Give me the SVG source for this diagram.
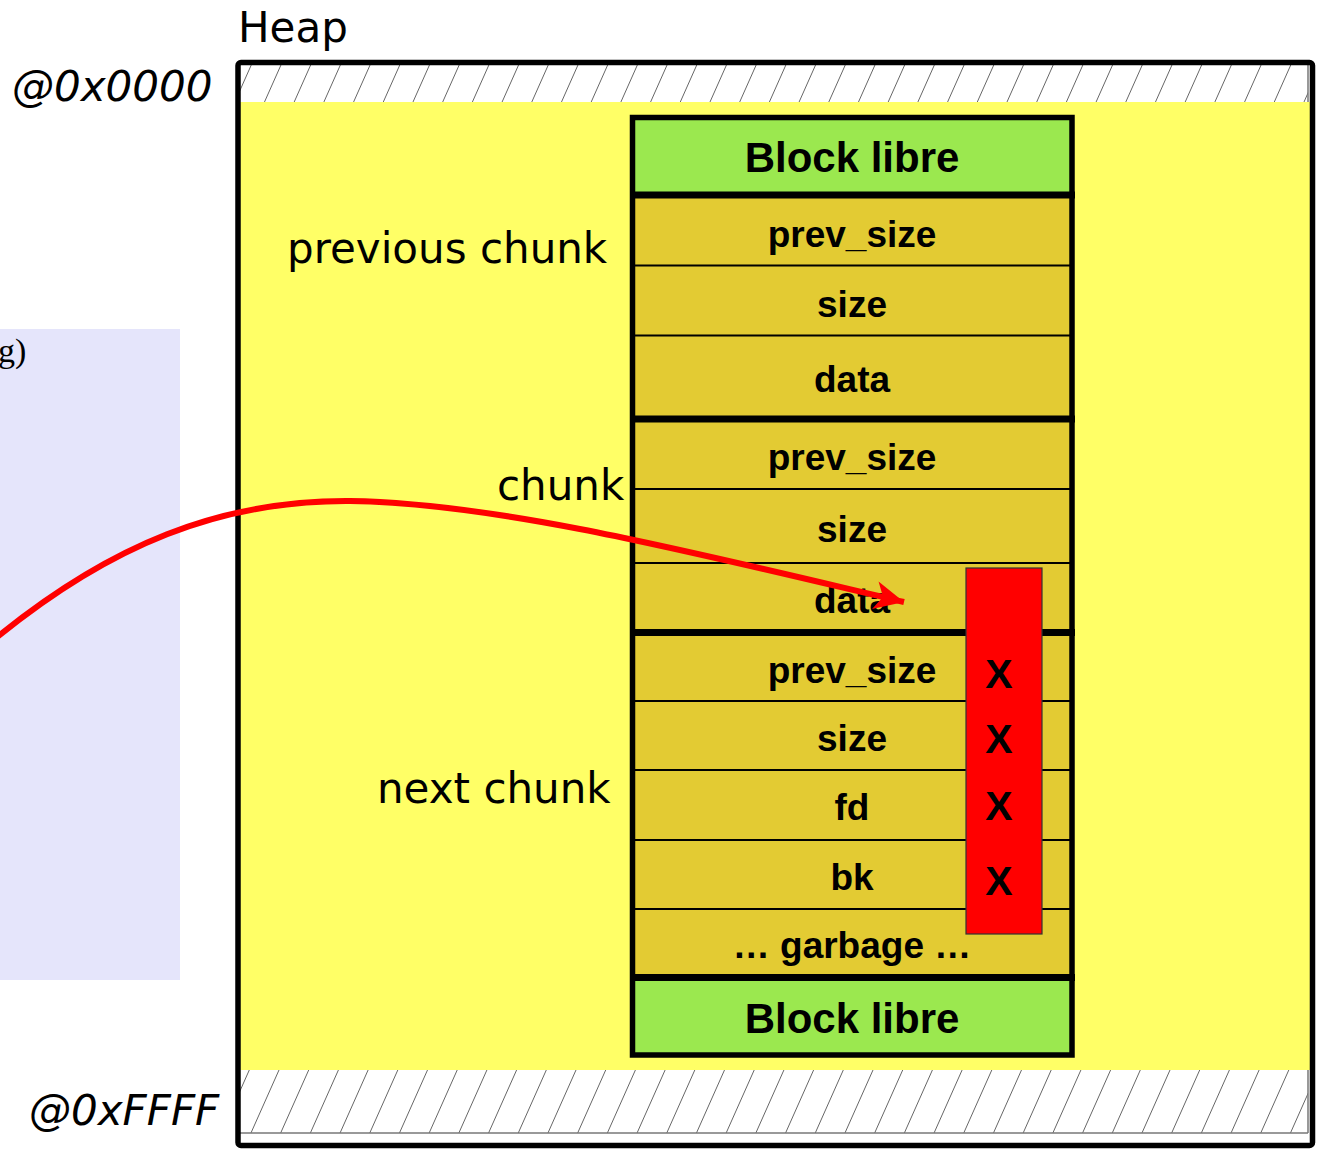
<svg xmlns="http://www.w3.org/2000/svg" width="1321" height="1152" viewBox="0 0 1321 1152">
  <style>
    .lbl { font-family: "DejaVu Sans", "Liberation Sans", sans-serif; font-size: 42px; fill: #000; }
    .addr { font-family: "DejaVu Sans", "Liberation Sans", sans-serif; font-size: 42px; font-style: italic; fill: #000; }
    .cell { font-family: "Liberation Sans", Arial, sans-serif; font-weight: bold; font-size: 37px; fill: #000; text-anchor: middle; }
    .title { font-family: "Liberation Sans", Arial, sans-serif; font-weight: bold; font-size: 42px; fill: #000; text-anchor: middle; }
    .x { font-family: "Liberation Sans", Arial, sans-serif; font-weight: bold; font-size: 41px; fill: #000; text-anchor: middle; }
    .thin { stroke: #000; stroke-width: 2; }
    .thick { stroke: #000; stroke-width: 7; }
  </style>
  <defs>
    <pattern id="hatch" patternUnits="userSpaceOnUse" width="29.7" height="300" patternTransform="translate(250 0) skewX(-24)">
      <line x1="0" y1="0" x2="0" y2="300" stroke="#000" stroke-width="1.2"/>
    </pattern>
    <marker id="head" markerUnits="userSpaceOnUse" markerWidth="34" markerHeight="34" viewBox="-28 -14 30 28" refX="0" refY="0" orient="auto">
      <path d="M0,0 L-26,-12.5 L-19,0 L-26,12.5 Z" fill="#ff0000"/>
    </marker>
  </defs>

  <!-- side panel -->
  <g id="side-panel">
    <rect x="0" y="329" width="180" height="651" fill="#e5e5fb"/>
    <text x="-2" y="362" font-family="Liberation Serif, serif" font-size="34" fill="#000">g)</text>
  </g>

  <!-- heap area -->
  <g id="heap">
    <text class="lbl" x="238" y="42">Heap</text>
    <rect x="238" y="62.5" width="1074.5" height="1083" rx="3" fill="#fff"/>
    <rect x="240" y="65" width="1068" height="37" fill="url(#hatch)"/>
    <rect x="240" y="1070" width="1068" height="63" fill="url(#hatch)"/>
    <line x1="1308" y1="65" x2="1308" y2="1133" stroke="#777" stroke-width="1.5"/>
    <line x1="240" y1="1133" x2="1308" y2="1133" stroke="#777" stroke-width="1.5"/>
    <rect x="240" y="102" width="1070" height="968" fill="#ffff66"/>
    <rect x="238" y="62.5" width="1074.5" height="1083" rx="3" fill="none" stroke="#000" stroke-width="5.5"/>
  </g>

  <g id="addresses">
    <text class="addr" x="12" y="101">@0x0000</text>
    <text class="addr" x="29" y="1125">@0xFFFF</text>
  </g>

  <g id="chunk-labels">
    <text class="lbl" x="287" y="263">previous chunk</text>
    <text class="lbl" x="497" y="500">chunk</text>
    <text class="lbl" x="377" y="803">next chunk</text>
  </g>

  <!-- memory column -->
  <g id="block-top">
    <rect x="632.5" y="117.5" width="439.5" height="77.5" fill="#9be84f"/>
    <text class="title" x="852" y="172">Block libre</text>
  </g>

  <g id="previous-chunk">
    <rect x="632.5" y="195" width="439.5" height="224" fill="#e3cb33"/>
    <line class="thin" x1="632" y1="265.5" x2="1072" y2="265.5"/>
    <line class="thin" x1="632" y1="335.5" x2="1072" y2="335.5"/>
    <text class="cell" x="852" y="247">prev_size</text>
    <text class="cell" x="852" y="317">size</text>
    <text class="cell" x="852" y="392">data</text>
  </g>

  <g id="chunk">
    <rect x="632.5" y="419" width="439.5" height="214" fill="#e3cb33"/>
    <line class="thin" x1="632" y1="489" x2="1072" y2="489"/>
    <line class="thin" x1="632" y1="563" x2="1072" y2="563"/>
    <text class="cell" x="852" y="470">prev_size</text>
    <text class="cell" x="852" y="542">size</text>
    <text class="cell" x="852" y="613">data</text>
  </g>

  <g id="next-chunk">
    <rect x="632.5" y="633" width="439.5" height="345" fill="#e3cb33"/>
    <line class="thin" x1="632" y1="701" x2="1072" y2="701"/>
    <line class="thin" x1="632" y1="770" x2="1072" y2="770"/>
    <line class="thin" x1="632" y1="840" x2="1072" y2="840"/>
    <line class="thin" x1="632" y1="909" x2="1072" y2="909"/>
    <text class="cell" x="852" y="683">prev_size</text>
    <text class="cell" x="852" y="751">size</text>
    <text class="cell" x="852" y="820">fd</text>
    <text class="cell" x="852" y="890">bk</text>
    <text class="cell" x="852" y="958">… garbage …</text>
  </g>

  <g id="block-bottom">
    <rect x="632.5" y="978" width="439.5" height="77" fill="#9be84f"/>
    <text class="title" x="852" y="1033">Block libre</text>
  </g>

  <g id="separators">
    <line class="thick" x1="630" y1="195" x2="1075" y2="195"/>
    <line class="thick" x1="630" y1="419" x2="1075" y2="419"/>
    <line class="thick" x1="630" y1="632.5" x2="1075" y2="632.5"/>
    <line class="thick" x1="630" y1="977.5" x2="1075" y2="977.5"/>
    <rect x="632.5" y="117.5" width="439.5" height="937.5" fill="none" stroke="#000" stroke-width="5.5"/>
  </g>

  <g id="overwrite">
    <rect x="966" y="568" width="76" height="366" fill="#ff0000" stroke="#333" stroke-width="1.2"/>
    <text class="x" x="999" y="688">X</text>
    <text class="x" x="999" y="753">X</text>
    <text class="x" x="999" y="820">X</text>
    <text class="x" x="999" y="895">X</text>
  </g>

  <!-- connectors -->
  <g id="connectors">
    <path d="M -4 638 C 110 545, 220 500, 350 501 C 500 503, 700 554, 904 602" fill="none" stroke="#ff0000" stroke-width="6" marker-end="url(#head)"/>
  </g>
</svg>
